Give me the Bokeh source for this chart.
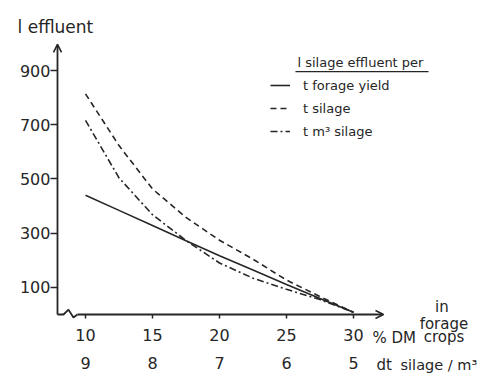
from bokeh.plotting import figure
from bokeh.models import (Range1d, LinearAxis, FixedTicker, Arrow, OpenHead,
                          Label, Legend, LegendItem, ColumnDataSource)
from bokeh.embed import file_html
from bokeh.resources import INLINE

# ---- data ----
dm_percent = [10, 12.5, 15, 17.5, 20, 22.5, 25, 27.5, 30]
per_t_forage_yield = [440, 384, 328, 272, 217, 164, 111, 59, 8]
per_t_silage = [814, 623, 463, 358, 274, 204, 127, 66, 8]
per_m3_silage = [716, 504, 368, 273, 190, 134, 93, 55, 8]

dm_ticks = [10, 15, 20, 25, 30]
density_labels = ["9", "8", "7", "6", "5"]
effluent_ticks = [100, 300, 500, 700, 900]

# axis break (zig-zag) of the x axis, near its origin
break_x = [7.91, 8.36, 8.73, 9.10, 9.40]
break_y = [0, 0, 18, -11, 0]
X_AXIS_END = 32.24
Y_AXIS_END = 996

ink = "#262626"
FONT = "DejaVu Sans"

p = figure(width=480, height=376, output_backend="svg", toolbar_location=None,
           x_range=Range1d(3.657, 39.478), y_range=Range1d(-228.7, 1158.2),
           x_axis_type=None, y_axis_type=None,
           min_border_left=0, min_border_right=0,
           min_border_top=0, min_border_bottom=0)
p.outline_line_color = None
p.grid.visible = False
p.background_fill_color = "white"
p.border_fill_color = "white"

# ---- axes ----
yaxis = LinearAxis(fixed_location=break_x[0], ticker=FixedTicker(ticks=effluent_ticks),
                   axis_line_color=None, major_tick_out=7, major_tick_in=0,
                   major_tick_line_width=1.5, major_tick_line_color=ink,
                   minor_tick_line_color=None, major_label_standoff=0,
                   major_label_text_font=FONT, major_label_text_font_size="16px",
                   major_label_text_color=ink)
p.add_layout(yaxis, "left")

xaxis = LinearAxis(fixed_location=0, ticker=FixedTicker(ticks=dm_ticks),
                   axis_line_color=None, major_tick_out=4, major_tick_in=0,
                   major_tick_line_width=1.5, major_tick_line_color=ink,
                   minor_tick_line_color=None, major_label_standoff=11,
                   major_label_text_font=FONT, major_label_text_font_size="16px",
                   major_label_text_color=ink)
p.add_layout(xaxis, "below")

xaxis2 = LinearAxis(fixed_location=0, ticker=FixedTicker(ticks=dm_ticks),
                    axis_line_color=None, major_tick_out=0, major_tick_in=0,
                    major_tick_line_color=None, minor_tick_line_color=None,
                    major_label_standoff=43,
                    major_label_overrides={t: s for t, s in zip(dm_ticks, density_labels)},
                    major_label_text_font=FONT, major_label_text_font_size="16px",
                    major_label_text_color=ink)
p.add_layout(xaxis2, "below")

# axis lines with arrows
p.line(x=break_x, y=break_y, line_color=ink, line_width=1.8)
p.add_layout(Arrow(end=OpenHead(size=8, line_width=1.6, line_color=ink),
                   x_start=break_x[-1], y_start=0, x_end=X_AXIS_END, y_end=0,
                   line_color=ink, line_width=1.8))
p.add_layout(Arrow(end=OpenHead(size=8, line_width=1.6, line_color=ink),
                   x_start=break_x[0], y_start=0, x_end=break_x[0], y_end=Y_AXIS_END,
                   line_color=ink, line_width=1.8))

# ---- curves ----
src = ColumnDataSource(dict(dm=dm_percent, fy=per_t_forage_yield,
                            s=per_t_silage, m3=per_m3_silage))
r1 = p.line("dm", "fy", source=src, line_color=ink, line_width=1.6)
r2 = p.line("dm", "s", source=src, line_color=ink, line_width=1.6, line_dash="6 4")
r3 = p.line("dm", "m3", source=src, line_color=ink, line_width=1.6, line_dash="7 3 2 3")

legend = Legend(items=[LegendItem(label="t forage yield", renderers=[r1]),
                       LegendItem(label="t silage", renderers=[r2]),
                       LegendItem(label="t m\u00b3 silage", renderers=[r3])],
                location=(270, 235), padding=0, margin=0,
                border_line_color=None, background_fill_alpha=0,
                glyph_width=20, glyph_height=20, label_height=20, spacing=3,
                label_standoff=13, label_text_font=FONT,
                label_text_font_size="13px", label_text_color=ink)
p.add_layout(legend)

# legend title with underline
p.add_layout(Label(x=25.82, y=929, text="l silage effluent per", text_font=FONT,
                   text_font_size="13px", text_color=ink, text_baseline="alphabetic"))
p.add_layout(Arrow(start=None, end=None, x_start=25.67, y_start=896, x_end=35.6, y_end=896,
                   line_color=ink, line_width=1.3))

# ---- texts ----
def lab(x, y, t, size="15px", align="left"):
    p.add_layout(Label(x=x, y=y, text=t, text_font=FONT, text_font_size=size,
                       text_color=ink, text_align=align, text_baseline="alphabetic"))

lab(4.93, 1062, "l effluent", "17px")
lab(31.42, -85, "% DM", "15px")
lab(36.6, 27, "in", "15px", "center")
lab(36.75, -34, "forage", "15px", "center")
lab(36.75, -84, "crops", "15px", "center")
lab(31.72, -185, "dt", "15px")
lab(33.51, -185, "silage / m\u00b3", "14.5px")

open("out.html", "w").write(file_html(p, INLINE))
